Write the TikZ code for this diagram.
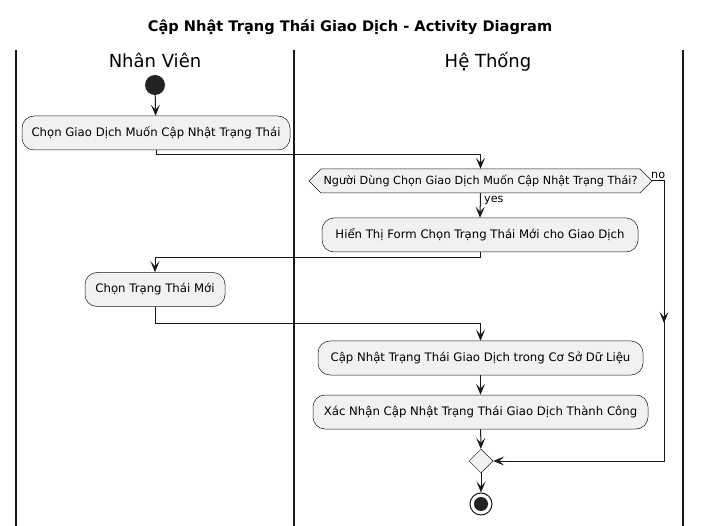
\documentclass[tikz,border=0pt]{standalone}
\usepackage{fontspec}
\setmainfont{DejaVu Sans}
\usetikzlibrary{arrows.meta,shapes.geometric}
\definecolor{actfill}{HTML}{F1F1F1}
\definecolor{ink}{HTML}{181818}
\definecolor{dotfill}{HTML}{222222}
\begin{document}
\begin{tikzpicture}[x=1pt,y=-1pt,
  act/.style={draw=ink,fill=actfill,rounded corners=12pt,minimum height=34pt,
    font=\fontsize{11.7}{14}\selectfont,inner sep=0pt,line width=0.5pt},
  conn/.style={line width=1pt,draw=ink},
  arr/.style={conn,-{Stealth[length=11pt,width=9pt,inset=5pt]}},
  lane/.style={line width=1.5pt,draw=ink},
  lbl/.style={font=\fontsize{11.2}{13}\selectfont,inner sep=0pt},
]
\useasboundingbox (0,0) rectangle (701,526);

% title and lanes
\node[font=\fontsize{14.6}{16}\selectfont\bfseries,anchor=base] (title) at (350,31.5) {Cập Nhật Trạng Thái Giao Dịch - Activity Diagram};
\coordinate (l1t) at (16,50);  \coordinate (l1b) at (16,526);
\coordinate (l2t) at (294,50); \coordinate (l2b) at (294,526);
\coordinate (l3t) at (683,50); \coordinate (l3b) at (683,526);
\draw[lane] (l1t) -- (l1b);
\draw[lane] (l2t) -- (l2b);
\draw[lane] (l3t) -- (l3b);
\node[font=\fontsize{18}{20}\selectfont,anchor=base] (h1) at (155,67.5) {Nhân Viên};
\node[font=\fontsize{18}{20}\selectfont,anchor=base] (h2) at (488,67.5) {Hệ Thống};

% start
\node[circle,fill=dotfill,minimum size=20pt,inner sep=0pt] (s) at (155,85) {};

% activities
\node[act,minimum width=268pt] (a1) at (156,133) {Chọn Giao Dịch Muốn Cập Nhật Trạng Thái};

% decision hexagon
\draw[draw=ink,fill=actfill,line width=0.5pt] (309,181) -- (321,169) -- (640,169) -- (652,181) -- (640,193) -- (321,193) -- cycle;
\node[lbl,minimum width=343pt,minimum height=24pt] (q) at (480.5,181) {Người Dùng Chọn Giao Dịch Muốn Cập Nhật Trạng Thái?};

\node[act,minimum width=316pt] (a2) at (480,235) {Hiển Thị Form Chọn Trạng Thái Mới cho Giao Dịch};
\node[act,minimum width=140pt] (a3) at (155,289.5) {Chọn Trạng Thái Mới};
\node[act,minimum width=325pt] (a4) at (480.5,358) {Cập Nhật Trạng Thái Giao Dịch trong Cơ Sở Dữ Liệu};
\node[act,minimum width=335pt] (a5) at (480.5,412) {Xác Nhận Cập Nhật Trạng Thái Giao Dịch Thành Công};

% merge
\node[diamond,draw=ink,fill=actfill,line width=0.5pt,minimum width=24pt,minimum height=24pt,inner sep=0pt] (m) at (481,461) {};

% end
\node[circle,draw=ink,line width=1pt,fill=white,minimum size=22pt,inner sep=0pt] (e) at (481,504) {};
\node[circle,fill=dotfill,minimum size=14pt,inner sep=0pt] (ei) at (e.center) {};

% connectors
\draw[arr] (s) -- (a1);
\draw[arr] (a1.south) -- ++(0,4) -| (q.north);
\draw[arr] (q.south) -- (a2.north);
\node[lbl,anchor=base west] (yes) at (484,203) {yes};
\draw[arr] (a2.south) -- ++(0,5) -| (a3.north);
\draw[arr] (a3.south) -- ++(0,17) -| (a4.north);
\draw[arr] (a4) -- (a5);
\draw[arr] (a5) -- (m);
\draw[arr] (m) -- (e);

\coordinate (nc) at (664,181);
\coordinate (nm) at (664,323);
\coordinate (nm2) at (664,318);
\coordinate (nb) at (664,461);
\draw[arr] (q.east) -- (nc) -- (nm);
\draw[arr] (nm2) -- (nb) -- (m.east);
\node[lbl,anchor=base west] (no) at (651,179) {no};
\end{tikzpicture}
\end{document}
